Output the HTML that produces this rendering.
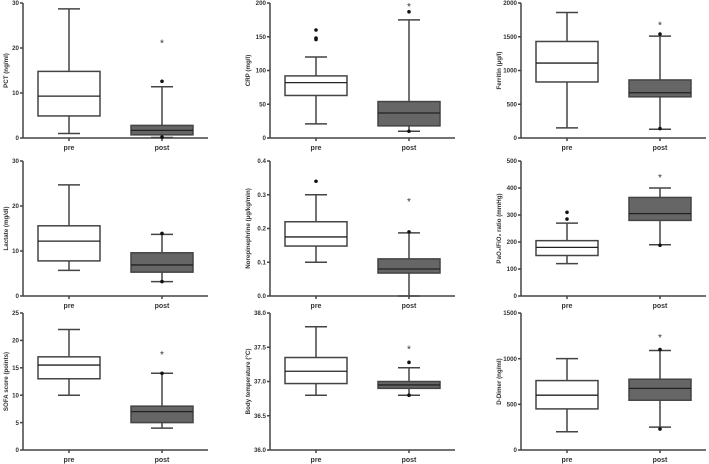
<!DOCTYPE html>
<html><head><meta charset="utf-8"><style>
html,body{margin:0;padding:0;background:#fff}
svg{display:block;font-family:"Liberation Sans",sans-serif}
</style></head><body>
<svg id="c" width="709" height="464" viewBox="0 0 709 464"></svg>
<script>
const titles=["PCT (ng/ml)","CRP (mg/l)","Ferritin (µg/l)","Lactate (mg/dl)","Norepinephrine (µg/kg/min)","PaO₂/FiO₂ ratio (mmHg)","SOFA score (points)","Body temperature (°C)","D-Dimer (ng/ml)"];
const yMins=[0,0,0,0,0,0,0,36,0];
const yMaxs=[30,200,2000,30,0.4,500,25,38,1500];
const tickSteps=[10,50,500,10,0.1,100,5,0.5,500];
const tickDecimals=[0,0,0,0,1,0,0,1,0];
const categories=["pre","post"];
// [min,q1,median,q3,max]
const preStats=[[1,4.9,9.3,14.8,28.7],[21,63,82,92,120],[150,830,1110,1430,1860],[5.7,7.8,12.2,15.6,24.7],[0.1,0.148,0.175,0.22,0.3],[120,150,180,205,270],[10,13,15.5,17,22],[36.8,36.97,37.15,37.35,37.8],[200,450,600,760,1000]];
const postStats=[[0.1,0.7,1.7,2.8,11.4],[10,18,37,54,175],[130,610,670,860,1510],[3.2,5.3,6.9,9.6,13.7],[0,0.068,0.08,0.11,0.187],[190,280,305,365,400],[4,5,7,8,14],[36.8,36.9,36.95,37.0,37.2],[250,545,675,775,1090]];
const preOutliers=[[],[160,148,146],[],[],[0.34],[310,285],[],[],[]];
const postOutliers=[[12.6,0.2],[187,10],[1540,140],[13.9,3.2],[0.19],[188],[14],[37.28,36.8],[1100,230]];
const starValues=[21.5,197,1700,null,0.285,445,17.7,37.5,1250];

const svg=document.getElementById('c');const NS="http://www.w3.org/2000/svg";
function mk(t,a,p){const e=document.createElementNS(NS,t);for(const k in a)e.setAttribute(k,a[k]);(p||svg).appendChild(e);return e;}
const colX=[23,270,521];const rows=[[3,138],[161,296],[313,450]];
const axLen=185,offs=[46,139],bw=62;
for(let i=0;i<9;i++){
  const ax=colX[i%3],[top,bot]=rows[Math.floor(i/3)];
  const y=v=>bot-(v-yMins[i])/(yMaxs[i]-yMins[i])*(bot-top);
  const g=mk('g',{});
  
  
  const st={stroke:'#444','stroke-width':1.5,fill:'none'};
  const ya=mk('line',{x1:ax,y1:top,x2:ax,y2:bot,...st},g);
  
  const xa=mk('line',{x1:ax,y1:bot,x2:ax+axLen,y2:bot,...st},g);
  
  const n=Math.round((yMaxs[i]-yMins[i])/tickSteps[i]);
  for(let k=0;k<=n;k++){const v=yMins[i]+k*tickSteps[i],yy=y(v);
    mk('line',{x1:ax-3,y1:yy,x2:ax,y2:yy,...st},g);
    const t=mk('text',{x:ax-4,y:yy+2.2,'font-size':6.2,'font-weight':'bold','text-anchor':'end',fill:'#333'},g);
    t.textContent=v.toFixed(tickDecimals[i]);
    }
  const yl=mk('text',{x:0,y:0,'font-size':6.2,'font-weight':'bold','text-anchor':'middle',fill:'#333',transform:`translate(${ax-(i%3==0?15:20)},${(top+bot)/2}) rotate(-90)`},g);
  yl.textContent=titles[i];
  [preStats[i],postStats[i]].forEach((s,j)=>{
    const cx=ax+offs[j];
    mk('line',{x1:cx,y1:bot,x2:cx,y2:bot+3,...st},g);
    const xl=mk('text',{x:cx,y:bot+12,'font-size':7,'font-weight':'bold','text-anchor':'middle',fill:'#333'},g);
    xl.textContent=categories[j];
    const bx=mk('g',{},g);
    
    mk('line',{x1:cx,y1:y(s[0]),x2:cx,y2:y(s[4]),...st},bx);
    mk('line',{x1:cx-11,y1:y(s[0]),x2:cx+11,y2:y(s[0]),...st},bx);
    mk('line',{x1:cx-11,y1:y(s[4]),x2:cx+11,y2:y(s[4]),...st},bx);
    mk('rect',{x:cx-bw/2,y:y(s[3]),width:bw,height:y(s[1])-y(s[3]),fill:j?'#666':'#fff',stroke:'#444','stroke-width':1.5},bx);
    mk('line',{x1:cx-bw/2,y1:y(s[2]),x2:cx+bw/2,y2:y(s[2]),stroke:'#222','stroke-width':1.3},bx);
    (j?postOutliers[i]:preOutliers[i]).forEach(o=>{
      const d=mk('circle',{cx:cx,cy:y(o),r:1.8,fill:'#111'},g);
      });
  });
  if(starValues[i]!==null){const s=mk('text',{x:ax+offs[1],y:y(starValues[i])+5,'font-size':10,'text-anchor':'middle',fill:'#333'},g);
    s.textContent='*';}
}
</script>
</body></html>
